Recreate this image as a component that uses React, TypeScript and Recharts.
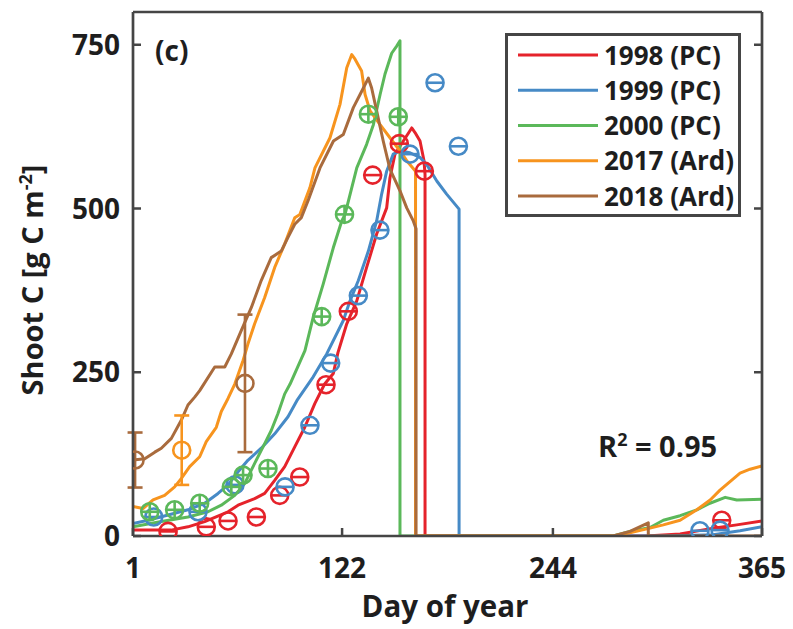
import React from 'react';
import { ComposedChart, Line, Scatter, XAxis, YAxis, ErrorBar, Legend } from 'recharts';

// ---- modelled shoot carbon (day of year, g C m-2) ----
const day1998 = [1, 23, 32.8, 42.5, 56, 61.8, 71.4, 77.2, 83, 88.8, 94.6, 100.4, 106.2, 111.9, 116.9, 119.6, 124.7, 130.5, 136.2, 142, 147.8, 149.7, 152.6, 155.5, 159.4, 162.3, 164.2, 167.1, 169.4, 170, 170, 298, 317.6, 336.8, 350.4, 365];
const c1998 = [9, 9, 14, 22, 37, 47, 57, 65, 85, 106, 136, 166, 202, 232, 248, 280, 324, 359, 410, 461, 501, 547, 583, 595, 611, 623, 616, 603, 573, 552, 0, 0, 3, 12, 17, 23];

const day1999 = [1, 9.7, 21.3, 32.8, 42.5, 50.2, 56, 61.8, 67.6, 75.2, 83, 90.7, 95.9, 105.3, 113.1, 122.7, 126.6, 131.4, 137.2, 142, 144.9, 147.8, 151.6, 155.5, 161.3, 167.1, 171, 176.8, 182.5, 189.7, 189.7, 310, 336.8, 352.3, 365];
const c1999 = [19, 24, 32, 40, 50, 65, 78, 98, 116, 134, 156, 182, 207, 243, 278, 329, 359, 390, 435, 481, 522, 557, 583, 588, 585, 578, 567, 542, 522, 499, 0, 0, 2, 8, 14];

const day2000 = [1, 17.4, 32.8, 44.4, 52.1, 59.9, 65.6, 71.4, 77.2, 81, 84.9, 88.8, 91.9, 100.5, 105.3, 111.1, 116.9, 121.8, 123.7, 130.5, 136.2, 140.1, 144, 146.8, 150.7, 153.6, 155.5, 155.5, 278.9, 288.6, 300.2, 307.9, 317.6, 327.3, 334.9, 343.7, 350.4, 365];
const c2000 = [14, 22, 29, 37, 47, 62, 80, 111, 141, 161, 187, 217, 232, 283, 334, 385, 440, 481, 491, 562, 598, 628, 674, 705, 737, 748, 756, 0, 0, 7, 13, 24, 31, 40, 50, 59, 55, 56];

const day2017 = [1, 6.8, 12.6, 19.3, 25.1, 29, 33.8, 39.6, 43.4, 49.2, 52.1, 56, 59.9, 64.7, 67.5, 71.4, 77.2, 83, 88.8, 94.6, 97.6, 103.4, 106.3, 115, 120.8, 124.7, 127.6, 129.5, 133.3, 135.3, 138.2, 144, 149.7, 155.5, 159.4, 164.5, 164.5, 278.9, 288.6, 300.2, 307.9, 317.6, 327.3, 335, 340.7, 346.5, 352.3, 358.1, 365];
const c2017 = [45, 42, 55, 62, 75, 88, 106, 121, 144, 166, 190, 210, 232, 268, 293, 324, 364, 410, 446, 486, 491, 532, 562, 608, 659, 715, 735, 728, 710, 674, 649, 628, 608, 588, 573, 557, 0, 0, 5, 12, 17, 24, 40, 55, 70, 83, 96, 102, 107];

const day2018 = [1, 7.8, 13.6, 17.4, 23.2, 29, 32.8, 36.7, 39.6, 48.3, 54.1, 57.9, 63.7, 69.5, 75.2, 81, 86.8, 90.7, 94.6, 98.4, 102.3, 109.2, 117, 122.7, 128.5, 132.4, 137.2, 139.1, 142, 145.8, 149.7, 155.5, 159.4, 163.2, 164.8, 164.8, 278.9, 288.6, 299.2, 299.2, 365];
const c2018 = [116, 118, 128, 134, 149, 177, 200, 212, 222, 258, 258, 278, 314, 349, 390, 425, 435, 456, 476, 486, 512, 562, 603, 613, 654, 674, 699, 684, 649, 603, 560, 527, 501, 481, 469, 0, 0, 7, 20, 0, 0];

// ---- measured shoot carbon ----
const obsDay1998 = [21.3, 43.4, 56, 72.4, 85.9, 97.5, 112.7, 125.6, 139.7, 155.1, 169.6, 341.7];
const obsC1998 = [7, 14, 23, 29, 62, 90, 231, 343, 551, 599, 557, 24];

const obsDay1999 = [13, 38.6, 60, 89, 103.4, 115.4, 131.4, 143.9, 161.3, 175.8, 189.3, 329.1, 340.7];
const obsC1999 = [29, 37, 78, 75, 169, 264, 367, 467, 583, 692, 595, 8, 9];

const obsDay2000 = [10.7, 25.1, 39.6, 57.9, 64.7, 79.1, 110.2, 123.4, 137.2, 154.5];
const obsC2000 = [37, 40, 50, 75, 93, 103, 335, 491, 644, 640];

const obsDay2017 = [29.2];
const obsC2017 = [131];
const obsErr2017 = [53];

const obsDay2018 = [2.2, 65.8];
const obsC2018 = [116, 233];
const obsErr2018 = [42, 105];

const xTicks = [1, 122, 244, 365];
const yTicks = [0, 250, 500, 750];

// ---- styling ----
const RED = '#E5232B';
const BLUE = '#468AC6';
const GREEN = '#5BB85A';
const ORANGE = '#F7941E';
const BROWN = '#A96B3D';
const AXIS = '#454545';
const INK = '#1E1E1E';
const FONT = "'Open Sans', 'DejaVu Sans', sans-serif";
const TICK_LEN = 8;
const R = 8.5;

const toPoints = (days: number[], vals: number[], errs?: number[]) =>
  days.map((d, i) => ({ day: d, val: vals[i], err: errs ? errs[i] : 0 }));

const lines = [
  { name: '1998 (PC)', color: RED, data: toPoints(day1998, c1998) },
  { name: '1999 (PC)', color: BLUE, data: toPoints(day1999, c1999) },
  { name: '2000 (PC)', color: GREEN, data: toPoints(day2000, c2000) },
  { name: '2017 (Ard)', color: ORANGE, data: toPoints(day2017, c2017) },
  { name: '2018 (Ard)', color: BROWN, data: toPoints(day2018, c2018) },
];

const tickText: React.CSSProperties = {
  fontFamily: FONT,
  fontWeight: 700,
  fontSize: 28,
  fill: INK,
};

const BottomTick = (p: any) => (
  <g>
    <line x1={p.x} y1={p.y} x2={p.x} y2={p.y - TICK_LEN} stroke={AXIS} strokeWidth={2.5} />
    <text x={p.x} y={p.y + 42} textAnchor="middle" style={tickText}>
      {p.payload.value}
    </text>
  </g>
);

const LeftTick = (p: any) => (
  <g>
    <line x1={p.x} y1={p.y} x2={p.x + TICK_LEN} y2={p.y} stroke={AXIS} strokeWidth={2.5} />
    <text x={p.x - 13} y={p.y + 10} textAnchor="end" style={tickText}>
      {p.payload.value}
    </text>
  </g>
);

const TopTick = (p: any) => (
  <line x1={p.x} y1={p.y} x2={p.x} y2={p.y + TICK_LEN} stroke={AXIS} strokeWidth={2.5} />
);

const RightTick = (p: any) => (
  <line x1={p.x} y1={p.y} x2={p.x - TICK_LEN} y2={p.y} stroke={AXIS} strokeWidth={2.5} />
);

// circle marker with a short horizontal bar (and an optional vertical bar)
const makeMarker = (color: string, cross: boolean) => (p: any) => (
  <g>
    <circle cx={p.cx} cy={p.cy} r={R} fill="none" stroke={color} strokeWidth={2.6} />
    <line x1={p.cx - R} x2={p.cx + R} y1={p.cy} y2={p.cy} stroke={color} strokeWidth={2.6} />
    {cross && <line x1={p.cx} x2={p.cx} y1={p.cy - R} y2={p.cy + R} stroke={color} strokeWidth={2.6} />}
  </g>
);

const plainMarker = (color: string) => (p: any) => (
  <circle cx={p.cx} cy={p.cy} r={R} fill="none" stroke={color} strokeWidth={2.6} />
);

const LegendBox = (props: any) => {
  const items = (props.payload || []).filter((e: any) => e.type !== 'none');
  return (
    <svg width={236} height={184} style={{ display: 'block' }}>
      <rect x={1.5} y={1.5} width={233} height={181} fill="#fff" stroke={AXIS} strokeWidth={3} />
      {items.map((e: any, i: number) => {
        const y = 22 + i * 35.25;
        return (
          <g key={e.value}>
            <line x1={13} x2={93} y1={y} y2={y} stroke={e.color} strokeWidth={3} />
            <text x={99} y={y + 9.5} style={{ ...tickText, fontSize: 26 }}>
              {e.value}
            </text>
          </g>
        );
      })}
    </svg>
  );
};

const axisLine = { stroke: AXIS, strokeWidth: 2.7 };

export default function App() {
  return (
    <div style={{ position: 'absolute', left: 0, top: 0, width: 793, height: 629, background: '#fff' }}>
      <ComposedChart width={793} height={629} margin={{ top: 8, right: 27, bottom: 63, left: 73 }}>
        <XAxis
          dataKey="day"
          type="number"
          domain={[1, 365]}
          ticks={xTicks}
          height={30}
          tickSize={0}
          tickMargin={0}
          tick={BottomTick}
          axisLine={axisLine}
          allowDataOverflow
        />
        <XAxis
          xAxisId="top"
          orientation="top"
          type="number"
          domain={[1, 365]}
          ticks={xTicks}
          height={4}
          tickSize={0}
          tickMargin={0}
          tick={TopTick}
          axisLine={axisLine}
          allowDataOverflow
        />
        <YAxis
          type="number"
          domain={[0, 800]}
          ticks={yTicks}
          width={60}
          tickSize={0}
          tickMargin={0}
          tick={LeftTick}
          axisLine={axisLine}
          allowDataOverflow
        />
        <YAxis
          yAxisId="right"
          orientation="right"
          type="number"
          domain={[0, 800]}
          ticks={yTicks}
          width={4}
          tickSize={0}
          tickMargin={0}
          tick={RightTick}
          axisLine={axisLine}
          allowDataOverflow
        />
        <Legend
          layout="vertical"
          align="center"
          verticalAlign="middle"
          wrapperStyle={{ left: 505, top: 33, width: 236, height: 184 }}
          content={LegendBox}
        />
        {lines.map((s) => (
          <Line
            key={s.name}
            name={s.name}
            data={s.data}
            dataKey="val"
            type="linear"
            stroke={s.color}
            strokeWidth={3}
            strokeLinejoin="round"
            dot={false}
            activeDot={false}
            legendType="line"
            isAnimationActive={false}
          />
        ))}
        <Scatter
          name="obs 1998"
          data={toPoints(obsDay1998, obsC1998)}
          dataKey="val"
          legendType="none"
          shape={makeMarker(RED, false)}
          isAnimationActive={false}
        />
        <Scatter
          name="obs 1999"
          data={toPoints(obsDay1999, obsC1999)}
          dataKey="val"
          legendType="none"
          shape={makeMarker(BLUE, false)}
          isAnimationActive={false}
        />
        <Scatter
          name="obs 2000"
          data={toPoints(obsDay2000, obsC2000)}
          dataKey="val"
          legendType="none"
          shape={makeMarker(GREEN, true)}
          isAnimationActive={false}
        />
        <Scatter
          name="obs 2017"
          data={toPoints(obsDay2017, obsC2017, obsErr2017)}
          dataKey="val"
          legendType="none"
          shape={plainMarker(ORANGE)}
          isAnimationActive={false}
        >
          <ErrorBar dataKey="err" direction="y" width={7.5} stroke={ORANGE} strokeWidth={2.6} isAnimationActive={false} />
        </Scatter>
        <Scatter
          name="obs 2018"
          data={toPoints(obsDay2018, obsC2018, obsErr2018)}
          dataKey="val"
          legendType="none"
          shape={plainMarker(BROWN)}
          isAnimationActive={false}
        >
          <ErrorBar dataKey="err" direction="y" width={7.5} stroke={BROWN} strokeWidth={2.6} isAnimationActive={false} />
        </Scatter>
      </ComposedChart>
      <svg
        width={793}
        height={629}
        style={{ position: 'absolute', left: 0, top: 0, pointerEvents: 'none' }}
      >
        <text x={155} y={61} style={{ ...tickText, fontSize: 28 }}>
          (c)
        </text>
        <text x={598} y={457} style={{ ...tickText, fontSize: 29 }}>
          R<tspan dy={-11} fontSize={18}>2</tspan>
          <tspan dy={11}> = 0.95</tspan>
        </text>
        <text x={445} y={617} textAnchor="middle" style={{ ...tickText, fontSize: 29.5 }}>
          Day of year
        </text>
        <text transform="translate(43,280) rotate(-90)" textAnchor="middle" style={{ ...tickText, fontSize: 29 }}>
          Shoot C [g C m<tspan dy={-11} fontSize={18}>-2</tspan>
          <tspan dy={11}>]</tspan>
        </text>
      </svg>
    </div>
  );
}
